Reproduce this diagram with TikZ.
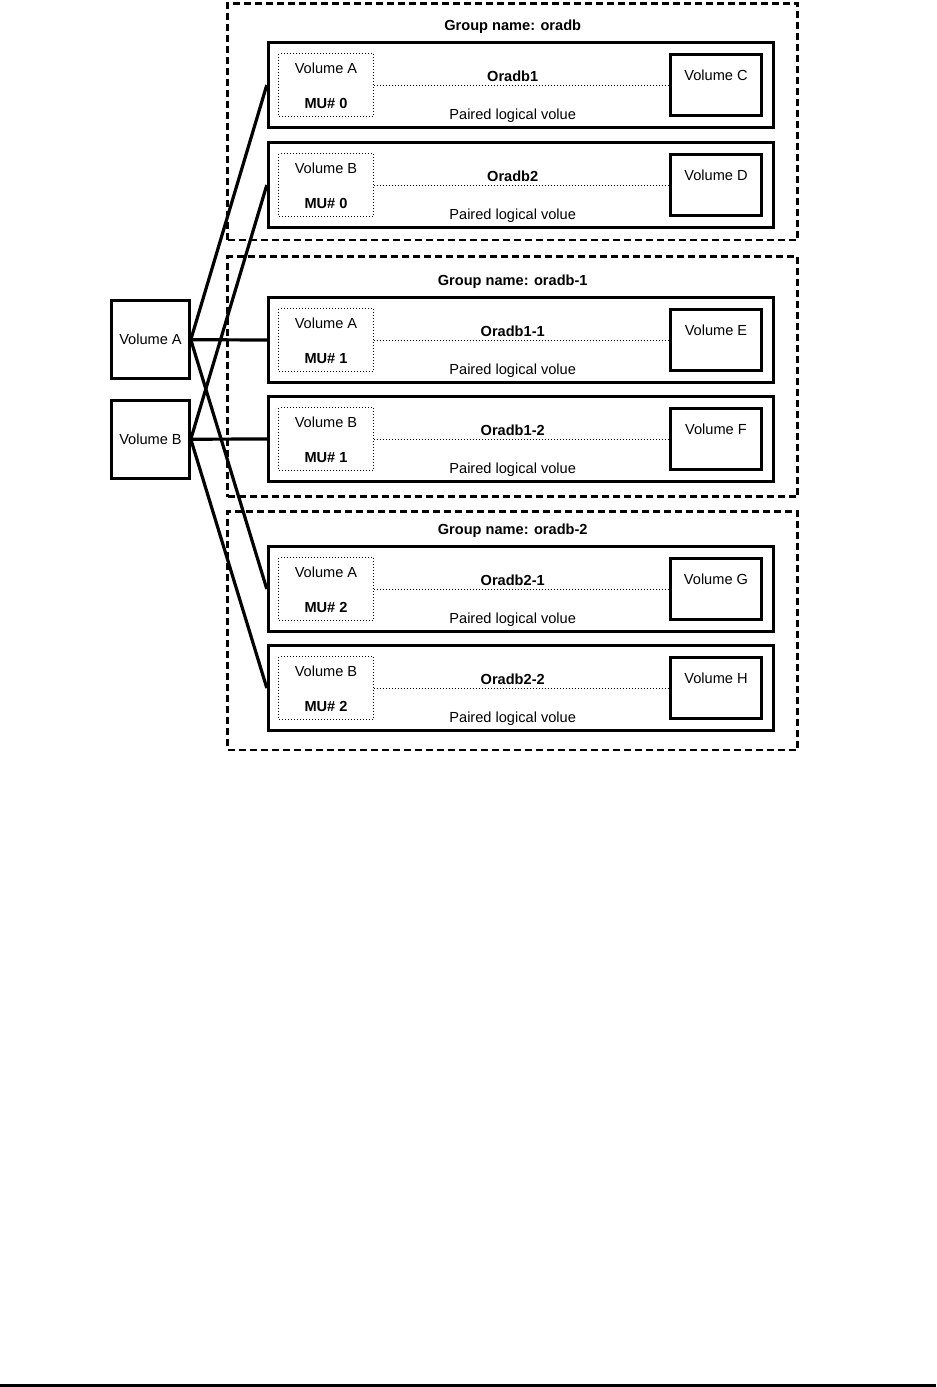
\documentclass[tikz,border=0pt]{standalone}
\usepackage{fontspec}
\setmainfont{Liberation Sans}
\begin{document}
\begin{tikzpicture}[x=0.5pt, y=-0.5pt, line width=1.6pt,
  every node/.style={font=\fontsize{7.3}{8.8}\selectfont, inner sep=0pt},
  boldtxt/.style={font=\fontsize{7.3}{8.8}\selectfont\bfseries},
  groupbox/.style={draw, dash pattern=on 3.5pt off 2pt, line width=1.25pt, minimum width=285pt},
  pairbox/.style={draw, minimum width=252.4pt, minimum height=42.6pt},
  mubox/.style={draw, densely dotted, line width=0.5pt, minimum width=47.2pt, minimum height=31.5pt},
  volbox/.style={draw, minimum width=45.7pt, minimum height=30.8pt},
  srcbox/.style={draw, minimum width=38.7pt, minimum height=38.9pt},
  link/.style={line width=1.6pt},
  pairline/.style={densely dotted, line width=0.5pt}]
  \useasboundingbox (0,0) rectangle (937,1387);
  % groups (dashed outlines)
  \node[groupbox, minimum height=118.3pt] (grp1) at (512.7,121.7) {};
  \node[groupbox, minimum height=120pt] (grp2) at (512.7,376.7) {};
  \node[groupbox, minimum height=119.2pt] (grp3) at (512.7,630.8) {};
  % group titles
  \node[boldtxt, anchor=base] (title1) at (512.7,30.5) {Group name: oradb};
  \node[boldtxt, anchor=base] (title2) at (512.7,285) {Group name: oradb-1};
  \node[boldtxt, anchor=base] (title3) at (512.7,534.5) {Group name: oradb-2};
  % paired logical volumes
  \foreach \i/\cy/\vol/\muno/\pname/\dst in {1/85/A/0/Oradb1/C, 2/185/B/0/Oradb2/D,
      3/340/A/1/Oradb1-1/E, 4/439/B/1/Oradb1-2/F, 5/589/A/2/Oradb2-1/G, 6/688/B/2/Oradb2-2/H}{
    \node[pairbox] (pair\i) at (520.8,\cy) {};
    \node[mubox] (mu\i) at (326,\cy) {};
    \node[volbox] (dst\i) at (716,\cy) {};
    \node[anchor=base] (vname\i) at (326,\cy-12) {Volume \vol};
    \node[boldtxt, anchor=base] (muname\i) at (326,\cy+23.5) {MU\# \muno};
    \node[boldtxt, anchor=base] (pname\i) at (512.7,\cy-4) {\pname};
    \node[anchor=base] (plabel\i) at (512.7,\cy+34) {Paired logical volue};
    \node[anchor=base] (dname\i) at (716,\cy-4.5) {Volume \dst};
    \draw[pairline] (mu\i) -- (dst\i);
  }
  % source volumes
  \node[srcbox] (volA) at (150.5,339.7) {Volume A};
  \node[srcbox] (volB) at (150.5,439.2) {Volume B};
  % links to each group
  \draw[link] (volA.east) -- (pair1.west);
  \draw[link] (volA.east) -- (pair3.west);
  \draw[link] (volA.east) -- (pair5.west);
  \draw[link] (volB.east) -- (pair2.west);
  \draw[link] (volB.east) -- (pair4.west);
  \draw[link] (volB.east) -- (pair6.west);
  % page rule
  \draw[line width=1.25pt] (0,1385.6) -- (936,1385.6);
\end{tikzpicture}
\end{document}
